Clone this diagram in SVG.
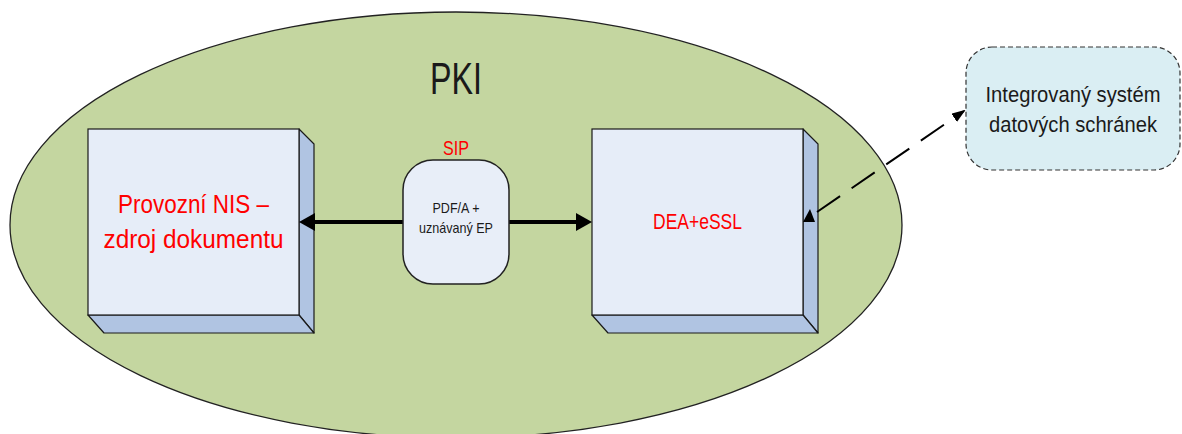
<svg xmlns="http://www.w3.org/2000/svg" width="1182" height="434" viewBox="0 0 1182 434">
  <style>
    .face { fill: #e6edf8; stroke: #1a1a1a; stroke-width: 1.2; }
    .side { fill: #b0c4e2; stroke: #1a1a1a; stroke-width: 1.2; stroke-linejoin: round; }
    .lbl { font-family: "Liberation Sans", Arial, sans-serif; text-anchor: middle; }
    .red { fill: #ff0000; }
    .dark { fill: #1a1a1a; }
  </style>
  <defs>
    <marker id="headBold" viewBox="0 0 16 18" refX="10" refY="9" markerWidth="16" markerHeight="18" markerUnits="userSpaceOnUse" orient="auto-start-reverse">
      <path d="M0,0 L16,9 L0,18 z" fill="#000"/>
    </marker>
    <marker id="headThin" viewBox="0 0 14 10" refX="12" refY="5" markerWidth="14" markerHeight="10" markerUnits="userSpaceOnUse" orient="auto">
      <path d="M0,0 L14,5 L0,10 z" fill="#000"/>
    </marker>
  </defs>

  <rect width="1182" height="434" fill="#ffffff"/>

  <!-- PKI domain -->
  <g id="pki">
    <ellipse cx="456" cy="225" rx="446" ry="213" fill="#c4d6a0" stroke="#222" stroke-width="1.3"/>
    <text class="lbl dark" x="456" y="94" font-size="44" textLength="52" lengthAdjust="spacingAndGlyphs">PKI</text>
  </g>

  <!-- source system block -->
  <g id="nis">
    <polygon class="side" points="299,129 314,144 314,333 299,315"/>
    <polygon class="side" points="88,315 299,315 314,333 104,333"/>
    <rect class="face" x="88" y="129" width="211" height="186"/>
    <text class="lbl red" x="193.5" y="213" font-size="26" textLength="151" lengthAdjust="spacingAndGlyphs">Provozní NIS –</text>
    <text class="lbl red" x="193.5" y="248" font-size="26" textLength="180" lengthAdjust="spacingAndGlyphs">zdroj dokumentu</text>
  </g>

  <!-- archive block -->
  <g id="dea">
    <polygon class="side" points="803,129 818,144 818,333 803,315"/>
    <polygon class="side" points="592,315 803,315 818,333 608,333"/>
    <rect class="face" x="592" y="129" width="211" height="186"/>
    <text class="lbl red" x="697.5" y="229" font-size="22" textLength="89" lengthAdjust="spacingAndGlyphs">DEA+eSSL</text>
  </g>

  <!-- submission package -->
  <g id="sip">
    <text class="lbl red" x="456" y="155" font-size="21" textLength="26" lengthAdjust="spacingAndGlyphs">SIP</text>
  </g>

  <!-- external data box system -->
  <g id="isds">
    <rect x="966" y="47" width="214" height="123" rx="26" fill="#daeef3" stroke="#333" stroke-width="1.2" stroke-dasharray="5,3"/>
    <text class="lbl dark" x="1073" y="102" font-size="22" textLength="175" lengthAdjust="spacingAndGlyphs">Integrovaný systém</text>
    <text class="lbl dark" x="1073" y="132" font-size="22" textLength="168" lengthAdjust="spacingAndGlyphs">datových schránek</text>
  </g>

  <!-- connectors -->
  <g id="connectors">
    <line x1="305" y1="222" x2="586" y2="222" stroke="#000" stroke-width="4" marker-start="url(#headBold)" marker-end="url(#headBold)"/>
    <line x1="817" y1="212" x2="964" y2="111" stroke="#000" stroke-width="2" stroke-dasharray="28,14" marker-end="url(#headThin)"/>
    <polygon points="803,222 815,222 810,209" fill="#000"/>
  </g>

  <!-- package box drawn over the bold connector -->
  <g id="sip-box">
    <rect x="403" y="160" width="106" height="124" rx="30" fill="#e8eef8" stroke="#222" stroke-width="1.5"/>
    <text class="lbl dark" x="456" y="213" font-size="15" textLength="47" lengthAdjust="spacingAndGlyphs">PDF/A +</text>
    <text class="lbl dark" x="456" y="233" font-size="15" textLength="74" lengthAdjust="spacingAndGlyphs">uznávaný EP</text>
  </g>
</svg>
